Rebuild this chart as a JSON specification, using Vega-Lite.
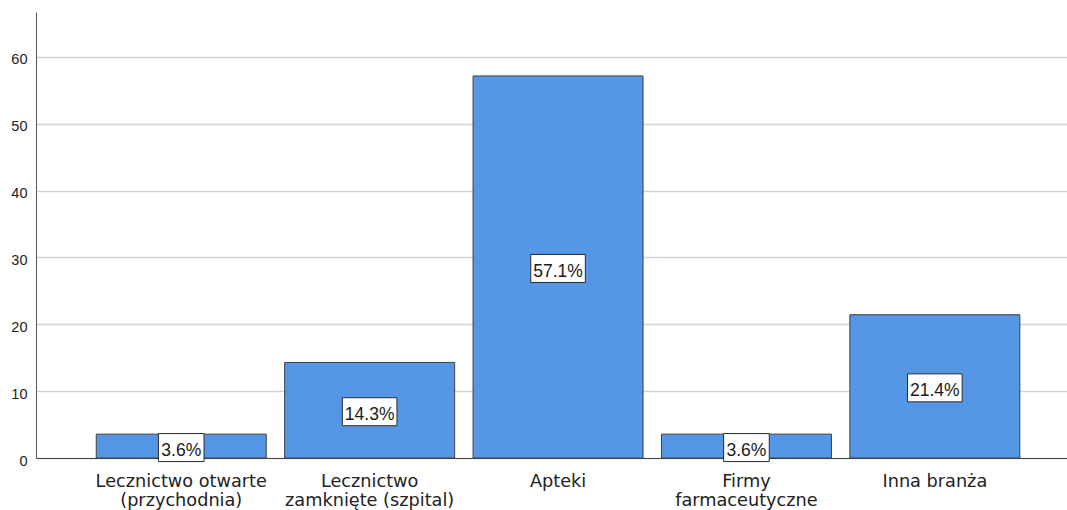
{
  "$schema": "https://vega.github.io/schema/vega-lite/v6.json",
  "width": 1031,
  "height": 446,
  "autosize": {"type": "none"},
  "padding": {"left": 36, "top": 12, "right": 0, "bottom": 52},
  "background": "white",
  "config": {"view": {"stroke": null}},
  "data": {
    "values": [
      {"category": "Lecznictwo otwarte\n(przychodnia)", "value": 3.57, "label": "3.6%"},
      {"category": "Lecznictwo\nzamknięte (szpital)", "value": 14.29, "label": "14.3%"},
      {"category": "Apteki", "value": 57.14, "label": "57.1%"},
      {"category": "Firmy\nfarmaceutyczne", "value": 3.57, "label": "3.6%"},
      {"category": "Inna branża", "value": 21.43, "label": "21.4%"}
    ]
  },
  "encoding": {
    "x": {
      "field": "category",
      "type": "nominal",
      "sort": null,
      "scale": {"paddingInner": 0.0977, "paddingOuter": 0.285, "align": 0.561},
      "axis": {
        "title": null,
        "labelAngle": 0,
        "ticks": false,
        "tickSize": 0,
        "labelPadding": 14,
        "labelBaseline": "top",
        "labelFont": "DejaVu Sans",
        "labelFontSize": 17.7,
        "labelLineHeight": 19,
        "labelColor": "#222222",
        "labelExpr": "split(datum.label, '\\n')",
        "domainColor": "#444444",
        "domainWidth": 1,
        "grid": false
      }
    }
  },
  "layer": [
    {
      "mark": {"type": "bar", "fill": "#5596e5", "stroke": "#404040", "strokeWidth": 1},
      "encoding": {
        "y": {
          "field": "value",
          "type": "quantitative",
          "scale": {"domain": [0, 66.7], "nice": false, "zero": true},
          "axis": {
            "title": null,
            "values": [0, 10, 20, 30, 40, 50, 60],
            "ticks": false,
            "tickSize": 0,
            "labelPadding": 9,
            "labelFont": "Liberation Sans",
            "labelFontSize": 14.5,
            "labelColor": "#222222",
            "labelOffset": 3,
            "domainColor": "#555555",
            "domainWidth": 1,
            "grid": true,
            "gridColor": "#d4d4d4",
            "gridWidth": 1.5
          }
        }
      }
    },
    {
      "mark": {"type": "point", "filled": true, "fill": "white", "stroke": "#2a2a2a", "strokeWidth": 1, "opacity": 1, "size": 4, "yOffset": 1.5},
      "encoding": {
        "y": {
          "field": "value",
          "type": "quantitative",
          "scale": {"domain": [0, 133.4], "nice": false, "zero": true},
          "axis": null
        },
        "shape": {
          "condition": {"test": "datum.value < 10", "value": "M-22.8,-14H22.8V14H-22.8Z"},
          "value": "M-27.3,-14H27.3V14H-27.3Z"
        }
      }
    },
    {
      "mark": {"type": "text", "font": "Liberation Sans", "fontSize": 17.5, "color": "#1a1a1a", "baseline": "alphabetic", "align": "center", "yOffset": 9.6},
      "encoding": {
        "y": {
          "field": "value",
          "type": "quantitative",
          "scale": {"domain": [0, 133.4], "nice": false, "zero": true},
          "axis": null
        },
        "text": {"field": "label"}
      }
    }
  ],
  "resolve": {"scale": {"y": "independent"}}
}
